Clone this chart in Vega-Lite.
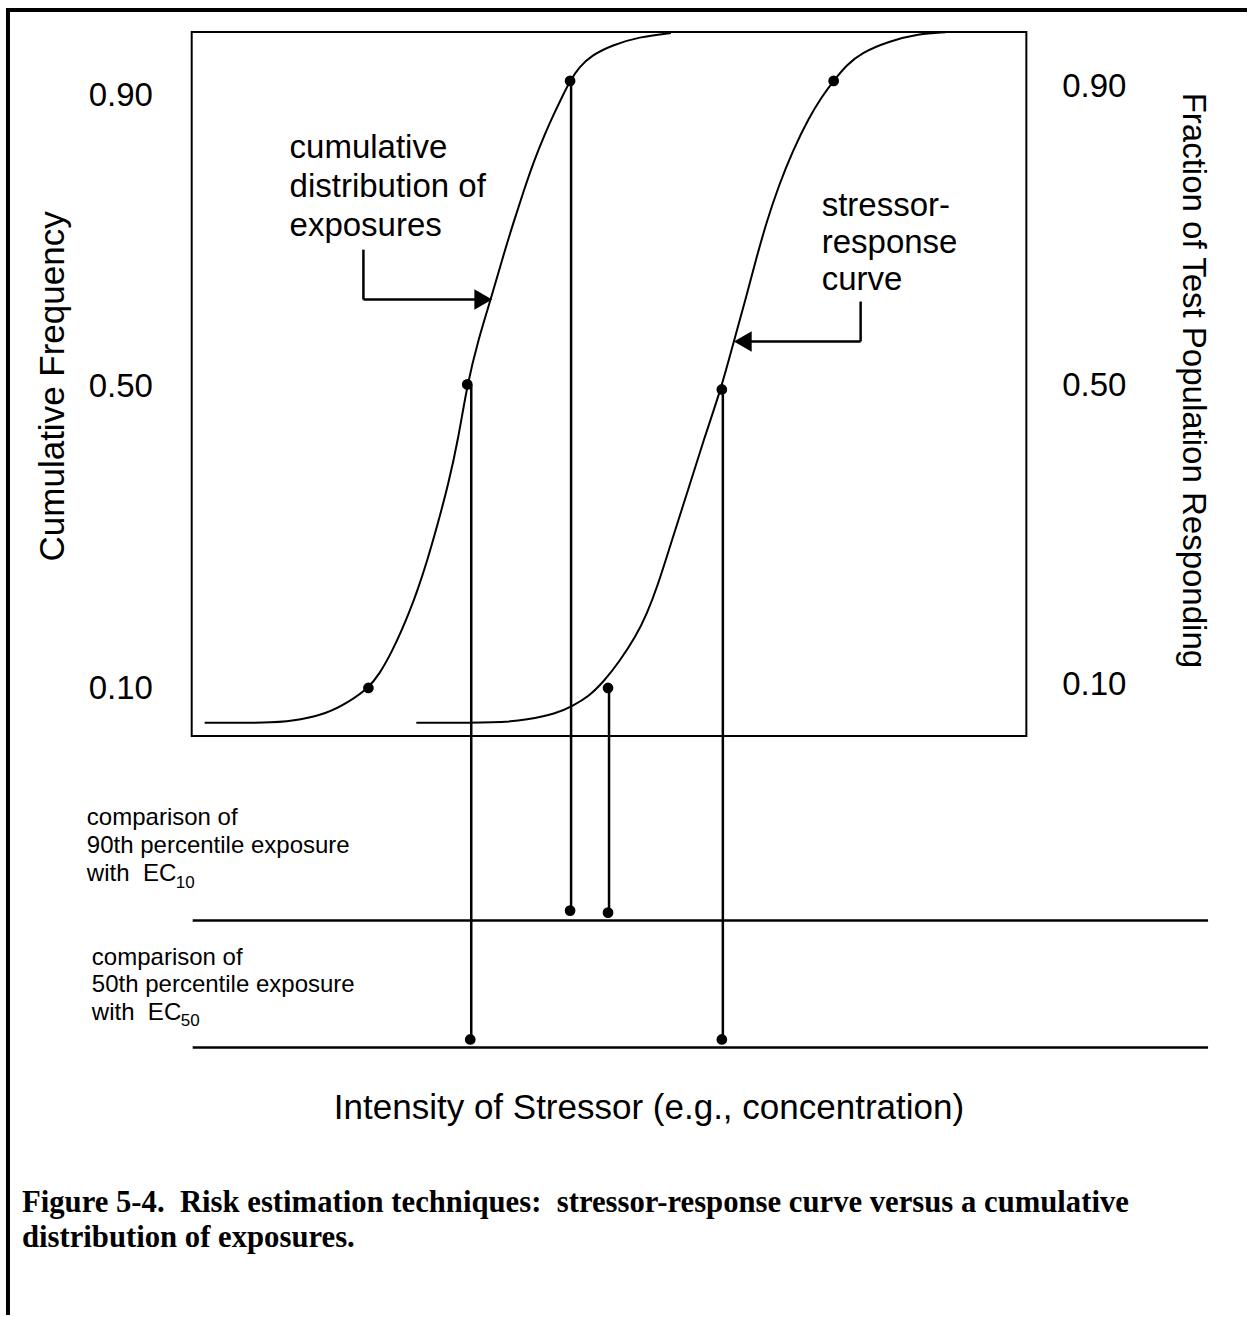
{
  "$schema": "https://vega.github.io/schema/vega-lite/v6.json",
  "width": 1249,
  "height": 1317,
  "autosize": {"type": "fit", "contains": "padding"},
  "padding": 0,
  "background": "white",
  "config": {"view": {"stroke": null}},
  "datasets": {
    "box": [{"x": 192, "x2": 1028, "y": 0.0368, "y2": 0.9645}],
    "border": [
      {"x": 6, "x2": 1249, "y": 0.9934, "y2": 0.9934},
      {"x": 8, "x2": 8, "y": 0.9961, "y2": -0.7263}
    ],
    "lines": [
      {"x": 193, "x2": 1210, "y": -0.2066, "y2": -0.2066},
      {"x": 193, "x2": 1210, "y": -0.3737, "y2": -0.3737},
      {"x": 472, "x2": 472, "y": 0.5, "y2": -0.3632},
      {"x": 572, "x2": 572, "y": 0.9, "y2": -0.1934},
      {"x": 610, "x2": 610, "y": 0.1, "y2": -0.1961},
      {"x": 724, "x2": 724, "y": 0.4934, "y2": -0.3632},
      {"x": 364, "x2": 364, "y": 0.6776, "y2": 0.6118},
      {"x": 364, "x2": 476, "y": 0.6118, "y2": 0.6118},
      {"x": 862, "x2": 862, "y": 0.6092, "y2": 0.5566},
      {"x": 862, "x2": 752, "y": 0.5566, "y2": 0.5566}
    ],
    "curves": [
      {"curve": "exposures", "x": 205, "y": 0.054},
      {"curve": "exposures", "x": 280, "y": 0.054},
      {"curve": "exposures", "x": 300, "y": 0.058},
      {"curve": "exposures", "x": 327, "y": 0.066},
      {"curve": "exposures", "x": 350, "y": 0.082},
      {"curve": "exposures", "x": 369, "y": 0.1},
      {"curve": "exposures", "x": 380, "y": 0.118},
      {"curve": "exposures", "x": 393, "y": 0.149},
      {"curve": "exposures", "x": 402, "y": 0.175},
      {"curve": "exposures", "x": 410, "y": 0.2},
      {"curve": "exposures", "x": 418, "y": 0.228},
      {"curve": "exposures", "x": 428, "y": 0.268},
      {"curve": "exposures", "x": 438, "y": 0.314},
      {"curve": "exposures", "x": 449, "y": 0.368},
      {"curve": "exposures", "x": 459, "y": 0.428},
      {"curve": "exposures", "x": 468, "y": 0.5},
      {"curve": "exposures", "x": 479, "y": 0.559},
      {"curve": "exposures", "x": 492, "y": 0.614},
      {"curve": "exposures", "x": 505, "y": 0.674},
      {"curve": "exposures", "x": 514, "y": 0.712},
      {"curve": "exposures", "x": 524, "y": 0.753},
      {"curve": "exposures", "x": 535, "y": 0.795},
      {"curve": "exposures", "x": 545, "y": 0.828},
      {"curve": "exposures", "x": 555, "y": 0.857},
      {"curve": "exposures", "x": 563, "y": 0.879},
      {"curve": "exposures", "x": 571, "y": 0.9},
      {"curve": "exposures", "x": 580, "y": 0.918},
      {"curve": "exposures", "x": 593, "y": 0.934},
      {"curve": "exposures", "x": 613, "y": 0.947},
      {"curve": "exposures", "x": 640, "y": 0.958},
      {"curve": "exposures", "x": 672, "y": 0.963},
      {"curve": "response", "x": 417, "y": 0.054},
      {"curve": "response", "x": 503, "y": 0.054},
      {"curve": "response", "x": 527, "y": 0.058},
      {"curve": "response", "x": 557, "y": 0.066},
      {"curve": "response", "x": 573, "y": 0.076},
      {"curve": "response", "x": 590, "y": 0.089},
      {"curve": "response", "x": 605, "y": 0.109},
      {"curve": "response", "x": 620, "y": 0.134},
      {"curve": "response", "x": 637, "y": 0.168},
      {"curve": "response", "x": 648, "y": 0.198},
      {"curve": "response", "x": 658, "y": 0.232},
      {"curve": "response", "x": 670, "y": 0.282},
      {"curve": "response", "x": 688, "y": 0.356},
      {"curve": "response", "x": 705, "y": 0.428},
      {"curve": "response", "x": 722, "y": 0.493},
      {"curve": "response", "x": 735, "y": 0.557},
      {"curve": "response", "x": 747, "y": 0.613},
      {"curve": "response", "x": 757, "y": 0.664},
      {"curve": "response", "x": 768, "y": 0.715},
      {"curve": "response", "x": 780, "y": 0.762},
      {"curve": "response", "x": 794, "y": 0.808},
      {"curve": "response", "x": 810, "y": 0.851},
      {"curve": "response", "x": 823, "y": 0.879},
      {"curve": "response", "x": 835, "y": 0.9},
      {"curve": "response", "x": 848, "y": 0.921},
      {"curve": "response", "x": 863, "y": 0.937},
      {"curve": "response", "x": 890, "y": 0.952},
      {"curve": "response", "x": 920, "y": 0.962},
      {"curve": "response", "x": 947, "y": 0.964}
    ],
    "dots": [
      {"x": 369, "y": 0.1},
      {"x": 468, "y": 0.5},
      {"x": 571, "y": 0.9},
      {"x": 609, "y": 0.1},
      {"x": 723, "y": 0.4934},
      {"x": 835, "y": 0.9},
      {"x": 571, "y": -0.1934},
      {"x": 609, "y": -0.1961},
      {"x": 471, "y": -0.3632},
      {"x": 723, "y": -0.3632}
    ],
    "headRight": [{"x": 484, "y": 0.6118}],
    "headLeft": [{"x": 744, "y": 0.5566}],
    "ticks": [
      {"label": "0.90", "x": 121, "y": 0.8671},
      {"label": "0.50", "x": 121, "y": 0.4829},
      {"label": "0.10", "x": 121, "y": 0.0855},
      {"label": "0.90", "x": 1096, "y": 0.8789},
      {"label": "0.50", "x": 1096, "y": 0.4842},
      {"label": "0.10", "x": 1096, "y": 0.0908}
    ],
    "notes": [
      {"label": "cumulative", "x": 290, "y": 0.7987},
      {"label": "distribution of", "x": 290, "y": 0.7474},
      {"label": "exposures", "x": 290, "y": 0.6961},
      {"label": "stressor-", "x": 823, "y": 0.7224},
      {"label": "response", "x": 823, "y": 0.6737},
      {"label": "curve", "x": 823, "y": 0.625}
    ],
    "leftTitle": [{"label": "Cumulative Frequency", "x": 53, "y": 0.4974}],
    "rightTitle": [{"label": "Fraction of Test Population Responding", "x": 1195, "y": 0.5053}],
    "xTitle": [{"label": "Intensity of Stressor (e.g., concentration)", "x": 650, "y": -0.4539}],
    "small": [
      {"label": "comparison of", "x": 87, "y": -0.0803},
      {"label": "90th percentile exposure", "x": 87, "y": -0.1171},
      {"label": "with\u00a0\u00a0EC", "x": 87, "y": -0.1539},
      {"label": "comparison of", "x": 92, "y": -0.2645},
      {"label": "50th percentile exposure", "x": 92, "y": -0.3013},
      {"label": "with\u00a0\u00a0EC", "x": 92, "y": -0.3382}
    ],
    "subs": [
      {"label": "10", "x": 176, "y": -0.1632},
      {"label": "50", "x": 181, "y": -0.3461}
    ],
    "caption": [
      {"label": "Figure 5-4.\u00a0 Risk estimation techniques:\u00a0 stressor-response curve versus a cumulative", "x": 22, "y": -0.5789},
      {"label": "distribution of exposures.", "x": 22, "y": -0.625}
    ]
  },
  "encoding": {
    "x": {"field": "x", "type": "quantitative", "scale": {"domain": [0, 1249], "nice": false, "zero": false}, "axis": null},
    "y": {"field": "y", "type": "quantitative", "scale": {"domain": [-0.72632, 1.00658], "nice": false, "zero": false}, "axis": null}
  },
  "layer": [
    {
      "data": {"name": "box"},
      "mark": {"type": "rect", "fill": "white", "fillOpacity": 0, "stroke": "black", "strokeWidth": 2},
      "encoding": {"x2": {"field": "x2"}, "y2": {"field": "y2"}}
    },
    {
      "data": {"name": "border"},
      "mark": {"type": "rule", "color": "black", "strokeWidth": 4},
      "encoding": {"x2": {"field": "x2"}, "y2": {"field": "y2"}}
    },
    {
      "data": {"name": "lines"},
      "mark": {"type": "rule", "color": "black", "strokeWidth": 2.5},
      "encoding": {"x2": {"field": "x2"}, "y2": {"field": "y2"}}
    },
    {
      "data": {"name": "curves"},
      "mark": {"type": "line", "color": "black", "strokeWidth": 2, "interpolate": "basis"},
      "encoding": {"detail": {"field": "curve", "type": "nominal"}}
    },
    {
      "data": {"name": "dots"},
      "mark": {"type": "point", "shape": "circle", "filled": true, "color": "black", "opacity": 1, "size": 115}
    },
    {
      "data": {"name": "headRight"},
      "mark": {"type": "point", "shape": "triangle-right", "filled": true, "color": "black", "opacity": 1, "size": 420}
    },
    {
      "data": {"name": "headLeft"},
      "mark": {"type": "point", "shape": "triangle-left", "filled": true, "color": "black", "opacity": 1, "size": 420}
    },
    {
      "data": {"name": "ticks"},
      "mark": {"type": "text", "font": "Liberation Sans", "fontSize": 33, "align": "center", "baseline": "alphabetic", "color": "black"},
      "encoding": {"text": {"field": "label"}}
    },
    {
      "data": {"name": "notes"},
      "mark": {"type": "text", "font": "Liberation Sans", "fontSize": 33, "align": "left", "baseline": "alphabetic", "color": "black"},
      "encoding": {"text": {"field": "label"}}
    },
    {
      "data": {"name": "leftTitle"},
      "mark": {"type": "text", "font": "Liberation Sans", "fontSize": 35, "align": "center", "baseline": "middle", "angle": 270, "color": "black"},
      "encoding": {"text": {"field": "label"}}
    },
    {
      "data": {"name": "rightTitle"},
      "mark": {"type": "text", "font": "Liberation Sans", "fontSize": 33, "align": "center", "baseline": "middle", "angle": 90, "color": "black"},
      "encoding": {"text": {"field": "label"}}
    },
    {
      "data": {"name": "xTitle"},
      "mark": {"type": "text", "font": "Liberation Sans", "fontSize": 35, "align": "center", "baseline": "middle", "color": "black"},
      "encoding": {"text": {"field": "label"}}
    },
    {
      "data": {"name": "small"},
      "mark": {"type": "text", "font": "Liberation Sans", "fontSize": 24, "align": "left", "baseline": "alphabetic", "color": "black"},
      "encoding": {"text": {"field": "label"}}
    },
    {
      "data": {"name": "subs"},
      "mark": {"type": "text", "font": "Liberation Sans", "fontSize": 17, "align": "left", "baseline": "alphabetic", "color": "black"},
      "encoding": {"text": {"field": "label"}}
    },
    {
      "data": {"name": "caption"},
      "mark": {"type": "text", "font": "Liberation Serif", "fontWeight": "bold", "fontSize": 30.7, "align": "left", "baseline": "middle", "color": "black"},
      "encoding": {"text": {"field": "label"}}
    }
  ]
}
